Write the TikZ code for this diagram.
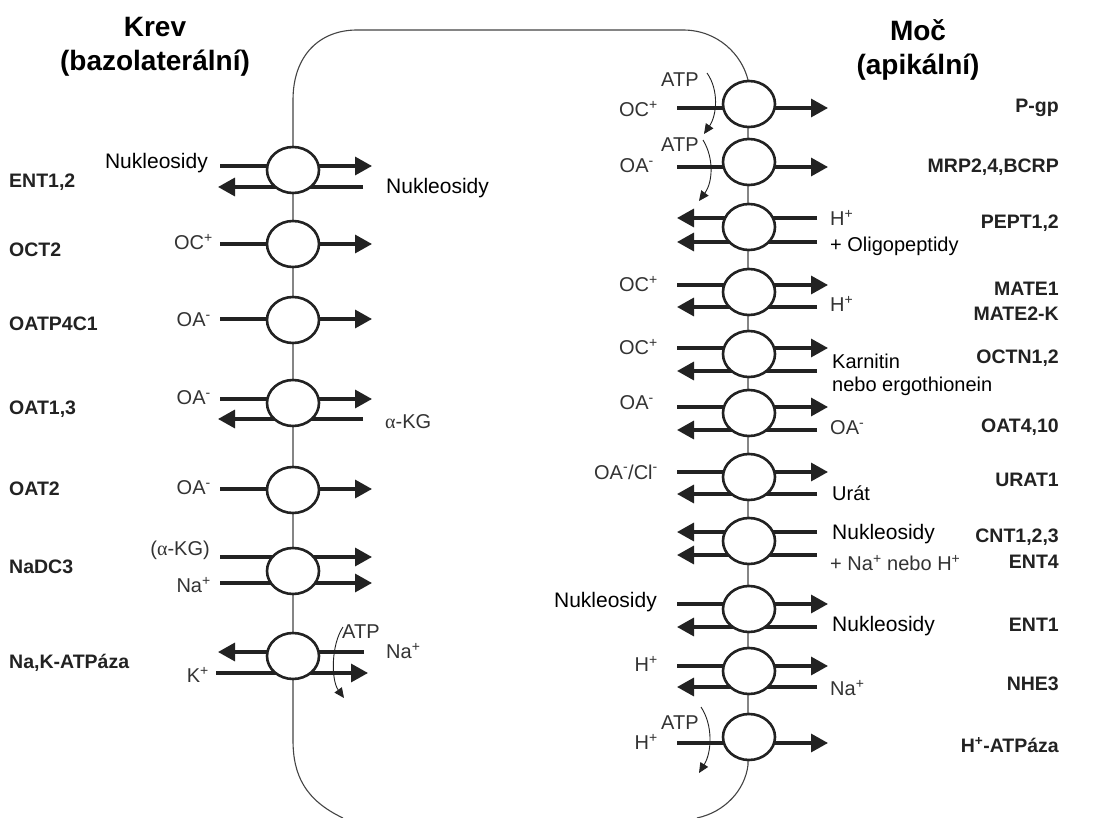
\documentclass[tikz,border=0pt]{standalone}
\usepackage{fontspec}
\setmainfont{Liberation Sans}
\newfontfamily\greekf{Liberation Serif}
\usetikzlibrary{arrows.meta,shapes.geometric}
\definecolor{ink}{HTML}{222222}
\definecolor{lbl}{HTML}{333333}
\definecolor{memb}{HTML}{444444}
\newcommand{\plus}{\textsuperscript{+}}
\newcommand{\minus}{\textsuperscript{-}}
\newcommand{\alf}{{\greekf α}}
\begin{document}
\begin{tikzpicture}[x=1pt,y=-1pt,
  membrane/.style={draw=memb,line width=1.1pt},
  chan/.style={ellipse,draw=ink,fill=white,line width=2.6pt,minimum width=52pt,minimum height=46pt,inner sep=0pt},
  flow/.style={draw=ink,line width=3.3pt,-{Triangle[length=17pt,width=18pt]}},
  atp/.style={draw=ink,line width=0.9pt,-{Triangle[length=10pt,width=9pt]}},
  sm/.style={text=lbl,font=\fontsize{20}{23}\selectfont,inner sep=1pt},
  bk/.style={text=black,font=\fontsize{20}{23}\selectfont,inner sep=1pt},
  prot/.style={text=ink,font=\fontsize{19.5}{22}\selectfont\bfseries,inner sep=1pt},
  ttl/.style={text=black,font=\fontsize{28}{32}\selectfont\bfseries,inner sep=0pt}]
\useasboundingbox (0,0) rectangle (1098,818);
\fill[white] (0,0) rectangle (1098,818);

% cell outline
\draw[membrane] (343,818) .. controls (305,800) and (293,775) .. (293,740) -- (293,100)
  .. controls (293,55) and (320,30) .. (357,30) -- (683,30)
  .. controls (718,30) and (742,55) .. (748,80) -- (748,765)
  .. controls (745,790) and (725,812) .. (697,818);

% titles
\node[ttl] (t1) at (155,27) {Krev};
\node[ttl] (t2) at (155,63) {(bazolaterální)};
\node[ttl] (t3) at (918,30) {Moč};
\node[ttl] (t4) at (918,67) {(apikální)};

% ---------------- left (basolateral) ----------------
% ENT1,2
\draw[flow] (220,166) -- (372,166);
\draw[flow] (363,187) -- (218,187);
\node[chan] (L1) at (293,170) {};
\node[bk,anchor=east,font=\fontsize{21}{24}\selectfont] (l1a) at (209,163) {Nukleosidy};
\node[bk,anchor=west,font=\fontsize{21}{24}\selectfont] (l1b) at (385,188) {Nukleosidy};
\node[prot,anchor=west] (p1) at (8,182) {ENT1,2};
% OCT2
\draw[flow] (220,244) -- (372,244);
\node[chan] (L2) at (293,244) {};
\node[sm,anchor=east] (l2a) at (214,242) {OC\plus};
\node[prot,anchor=west] (p2) at (8,250) {OCT2};
% OATP4C1
\draw[flow] (220,319) -- (372,319);
\node[chan] (L3) at (293,320) {};
\node[sm,anchor=east] (l3a) at (212,320) {OA\minus};
\node[prot,anchor=west] (p3) at (8,324) {OATP4C1};
% OAT1,3
\draw[flow] (220,399) -- (372,399);
\draw[flow] (363,419) -- (218,419);
\node[chan] (L4) at (293,403) {};
\node[sm,anchor=east] (l4a) at (212,398) {OA\minus};
\node[sm,anchor=west] (l4b) at (384,422) {\alf-KG};
\node[prot,anchor=west] (p4) at (8,409) {OAT1,3};
% OAT2
\draw[flow] (220,489) -- (372,489);
\node[chan] (L5) at (293,490) {};
\node[sm,anchor=east] (l5a) at (212,488) {OA\minus};
\node[prot,anchor=west] (p5) at (8,489) {OAT2};
% NaDC3
\draw[flow] (220,557) -- (372,557);
\draw[flow] (220,583) -- (372,583);
\node[chan] (L6) at (293,571) {};
\node[sm,anchor=east] (l6a) at (211,550) {(\alf-KG)};
\node[sm,anchor=east] (l6b) at (212,585) {Na\plus};
\node[prot,anchor=west] (p6) at (8,567) {NaDC3};
% Na,K-ATPase
\draw[flow] (364,652) -- (218,652);
\draw[flow] (216,673) -- (368,673);
\node[chan] (L7) at (293,656) {};
\draw[atp] (343,627) .. controls (331,645) and (331,680) .. (344,698);
\node[sm,anchor=west] (l7c) at (341,632) {ATP};
\node[sm,anchor=west] (l7a) at (385,651) {Na\plus};
\node[sm,anchor=east] (l7b) at (210,675) {K\plus};
\node[prot,anchor=west] (p7) at (8,663) {Na,K-ATPáza};

% ---------------- right (apical) ----------------
% P-gp
\draw[flow] (677,108) -- (828,108);
\node[chan] (R1) at (749,104) {};
\draw[atp] (707,73) .. controls (719,90) and (717,115) .. (704,134);
\node[sm,anchor=west] (r1c) at (660,80) {ATP};
\node[sm,anchor=east] (r1a) at (659,109) {OC\plus};
\node[prot,anchor=east] (q1) at (1060,108) {P-gp};
% MRP2,4,BCRP
\draw[flow] (677,167) -- (828,167);
\node[chan] (R2) at (749,162) {};
\draw[atp] (703,140) .. controls (714,158) and (713,182) .. (699,201);
\node[sm,anchor=west] (r2c) at (660,145) {ATP};
\node[sm,anchor=east] (r2a) at (655,166) {OA\minus};
\node[prot,anchor=east] (q2) at (1060,167) {MRP2,4,BCRP};
% PEPT1,2
\draw[flow] (817,218) -- (677,218);
\draw[flow] (817,242) -- (677,242);
\node[chan] (R3) at (749,227) {};
\node[sm,anchor=west] (r3a) at (829,218) {H\plus};
\node[bk,anchor=west] (r3b) at (829,246) {+ Oligopeptidy};
\node[prot,anchor=east] (q3) at (1060,223) {PEPT1,2};
% MATE
\draw[flow] (677,285) -- (828,285);
\draw[flow] (817,307) -- (677,307);
\node[chan] (R4) at (749,292) {};
\node[sm,anchor=east] (r4a) at (659,284) {OC\plus};
\node[sm,anchor=west] (r4b) at (829,304) {H\plus};
\node[prot,anchor=east] (q4) at (1060,289) {MATE1};
\node[prot,anchor=east] (q4b) at (1060,314) {MATE2-K};
% OCTN1,2
\draw[flow] (677,348) -- (828,348);
\draw[flow] (817,371) -- (677,371);
\node[chan] (R5) at (749,354) {};
\node[sm,anchor=east] (r5a) at (659,347) {OC\plus};
\node[bk,anchor=west] (r5b) at (831,361) {Karnitin};
\node[bk,anchor=west] (r5c) at (831,386) {nebo ergothionein};
\node[prot,anchor=east] (q5) at (1060,358) {OCTN1,2};
% OAT4,10
\draw[flow] (677,407) -- (828,407);
\draw[flow] (817,430) -- (677,430);
\node[chan] (R6) at (749,413) {};
\node[sm,anchor=east] (r6a) at (655,403) {OA\minus};
\node[sm,anchor=west] (r6b) at (829,428) {OA\minus};
\node[prot,anchor=east] (q6) at (1060,427) {OAT4,10};
% URAT1
\draw[flow] (677,472) -- (828,472);
\draw[flow] (817,494) -- (677,494);
\node[chan] (R7) at (749,477) {};
\node[sm,anchor=east] (r7a) at (659,472) {OA\minus/Cl\minus};
\node[bk,anchor=west] (r7b) at (831,493) {Urát};
\node[prot,anchor=east] (q7) at (1060,480) {URAT1};
% CNT1,2,3 / ENT4
\draw[flow] (817,532) -- (677,532);
\draw[flow] (817,555) -- (677,555);
\node[chan] (R8) at (749,541) {};
\node[bk,anchor=west,font=\fontsize{21}{24}\selectfont] (r8a) at (831,534) {Nukleosidy};
\node[sm,anchor=west] (r8b) at (829,563) {+ Na\plus{} nebo H\plus};
\node[prot,anchor=east] (q8) at (1060,537) {CNT1,2,3};
\node[prot,anchor=east] (q8b) at (1060,562) {ENT4};
% ENT1
\draw[flow] (677,604) -- (828,604);
\draw[flow] (817,627) -- (677,627);
\node[chan] (R9) at (749,609) {};
\node[bk,anchor=east,font=\fontsize{21}{24}\selectfont] (r9a) at (658,602) {Nukleosidy};
\node[bk,anchor=west,font=\fontsize{21}{24}\selectfont] (r9b) at (831,626) {Nukleosidy};
\node[prot,anchor=east] (q9) at (1060,625) {ENT1};
% NHE3
\draw[flow] (677,666) -- (828,666);
\draw[flow] (817,687) -- (677,687);
\node[chan] (R10) at (749,671) {};
\node[sm,anchor=east] (r10a) at (659,664) {H\plus};
\node[sm,anchor=west] (r10b) at (829,688) {Na\plus};
\node[prot,anchor=east] (q10) at (1060,684) {NHE3};
% H+-ATPase
\draw[flow] (677,743) -- (828,743);
\node[chan] (R11) at (749,737) {};
\draw[atp] (701,707) .. controls (713,725) and (712,752) .. (699,773);
\node[sm,anchor=west] (r11c) at (660,723) {ATP};
\node[sm,anchor=east] (r11a) at (659,742) {H\plus};
\node[prot,anchor=east] (q11) at (1060,745) {H\plus-ATPáza};
\end{tikzpicture}
\end{document}
